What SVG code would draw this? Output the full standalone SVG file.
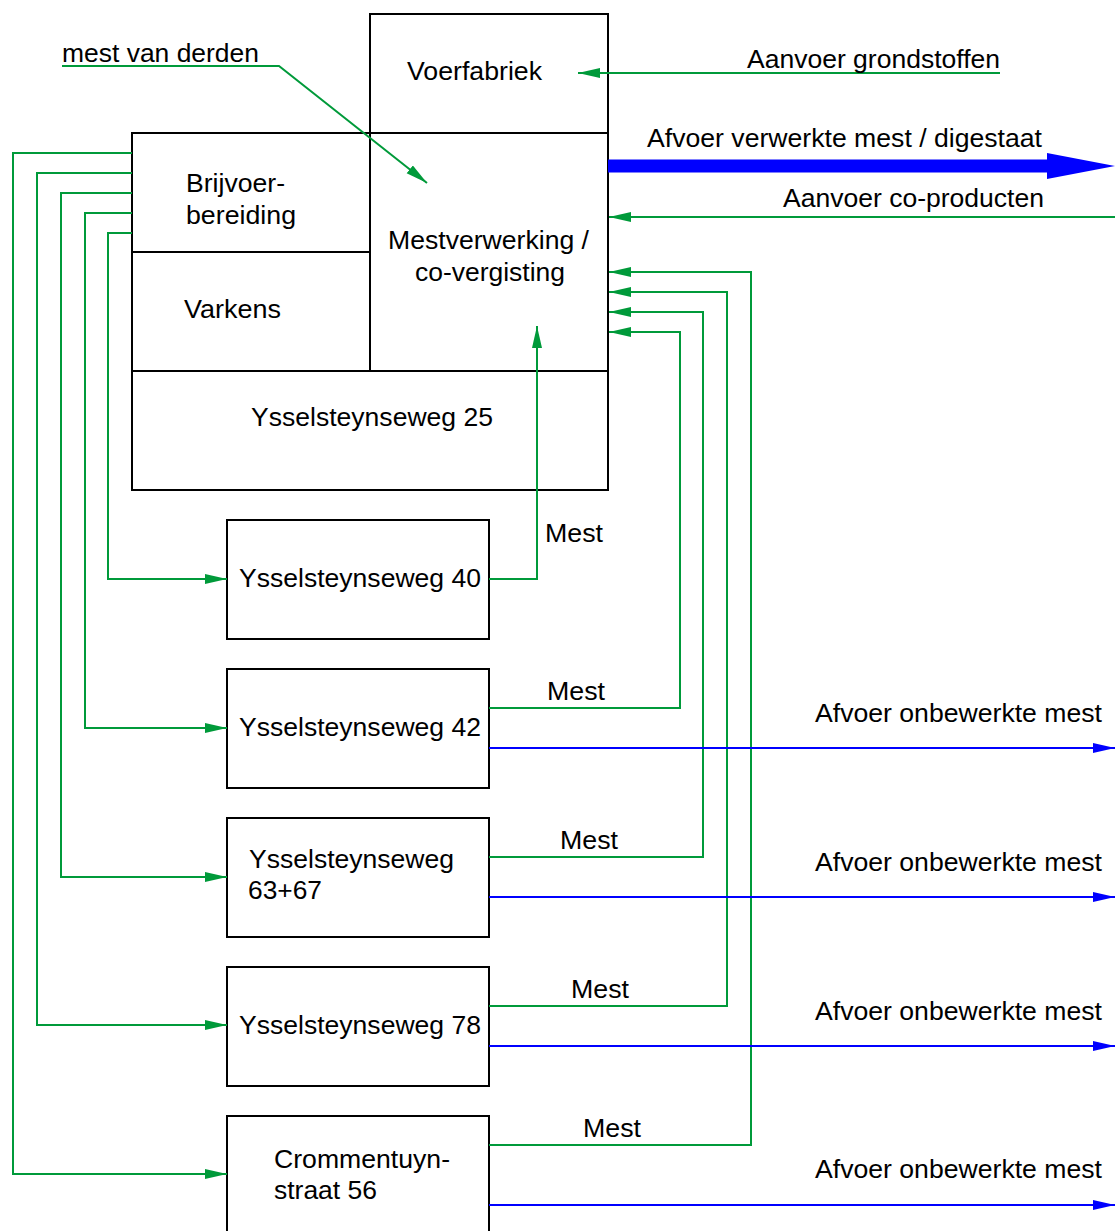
<svg xmlns="http://www.w3.org/2000/svg" width="1115" height="1231" viewBox="0 0 1115 1231">
<style>
.box{fill:#fff;stroke:#000;stroke-width:2}
.t{font-family:"Liberation Sans",Arial,sans-serif;font-size:25px;fill:#000}
.g{fill:none;stroke:#009a3a;stroke-width:2}
.b{fill:none;stroke:#0000ff;stroke-width:2}
</style>
<defs>
<marker id="ga" markerUnits="userSpaceOnUse" markerWidth="24" markerHeight="12" refX="22" refY="5" orient="auto"><path d="M0,0 L22,5 L0,10 Z" fill="#009a3a"/></marker>
<marker id="ba" markerUnits="userSpaceOnUse" markerWidth="24" markerHeight="12" refX="22" refY="5" orient="auto"><path d="M0,0 L22,5 L0,10 Z" fill="#0000ff"/></marker>
</defs>
<rect width="1115" height="1231" fill="#fff"/>
<g id="voerfabriek"><rect class="box" x="370" y="14" width="238" height="119"/><text class="t" x="407" y="80" textLength="135" lengthAdjust="spacingAndGlyphs">Voerfabriek</text></g>
<g id="ysselsteynseweg25"><rect class="box" x="132" y="371" width="476" height="119"/><text class="t" x="251" y="426" textLength="242" lengthAdjust="spacingAndGlyphs">Ysselsteynseweg 25</text></g>
<g id="brijvoer"><rect class="box" x="132" y="133" width="238" height="119"/><text class="t" x="186" y="192" textLength="99" lengthAdjust="spacingAndGlyphs">Brijvoer-</text><text class="t" x="186" y="224" textLength="110" lengthAdjust="spacingAndGlyphs">bereiding</text></g>
<g id="varkens"><rect class="box" x="132" y="252" width="238" height="119"/><text class="t" x="184" y="318" textLength="97" lengthAdjust="spacingAndGlyphs">Varkens</text></g>
<g id="mestverwerking"><rect class="box" x="370" y="133" width="238" height="238"/><text class="t" x="388" y="249" textLength="201" lengthAdjust="spacingAndGlyphs">Mestverwerking /</text><text class="t" x="415" y="281" textLength="150" lengthAdjust="spacingAndGlyphs">co-vergisting</text></g>
<g id="ysselsteynseweg40"><rect class="box" x="227" y="520" width="262" height="119"/><text class="t" x="239" y="587" textLength="242" lengthAdjust="spacingAndGlyphs">Ysselsteynseweg 40</text></g>
<g id="ysselsteynseweg42"><rect class="box" x="227" y="669" width="262" height="119"/><text class="t" x="239" y="736" textLength="242" lengthAdjust="spacingAndGlyphs">Ysselsteynseweg 42</text></g>
<g id="ysselsteynseweg6367"><rect class="box" x="227" y="818" width="262" height="119"/><text class="t" x="249" y="868" textLength="205" lengthAdjust="spacingAndGlyphs">Ysselsteynseweg</text><text class="t" x="248" y="899" textLength="74" lengthAdjust="spacingAndGlyphs">63+67</text></g>
<g id="ysselsteynseweg78"><rect class="box" x="227" y="967" width="262" height="119"/><text class="t" x="239" y="1034" textLength="242" lengthAdjust="spacingAndGlyphs">Ysselsteynseweg 78</text></g>
<g id="crommentuynstraat56"><rect class="box" x="227" y="1116" width="262" height="130"/><text class="t" x="274" y="1168" textLength="176" lengthAdjust="spacingAndGlyphs">Crommentuyn-</text><text class="t" x="274" y="1199" textLength="103" lengthAdjust="spacingAndGlyphs">straat 56</text></g>
<g id="connectors">
<path class="g" d="M62,66 L279,66 L427,183" marker-end="url(#ga)"/>
<path class="g" d="M1000,73 L578,73" marker-end="url(#ga)"/>
<line x1="608" y1="166" x2="1048" y2="166" stroke="#0000ff" stroke-width="13"/>
<polygon points="1047,153 1115,166 1047,179" fill="#0000ff"/>
<path class="g" d="M1115,217 L609,217" marker-end="url(#ga)"/>
<path class="g" d="M132,153 L13,153 L13,1174 L227,1174" marker-end="url(#ga)"/>
<path class="g" d="M132,173 L37,173 L37,1025 L227,1025" marker-end="url(#ga)"/>
<path class="g" d="M132,193 L61,193 L61,877 L227,877" marker-end="url(#ga)"/>
<path class="g" d="M132,213 L85,213 L85,728 L227,728" marker-end="url(#ga)"/>
<path class="g" d="M132,233 L108,233 L108,579 L227,579" marker-end="url(#ga)"/>
<path class="g" d="M489,579 L537,579 L537,326" marker-end="url(#ga)"/>
<path class="g" d="M489,708 L680,708 L680,332 L609,332" marker-end="url(#ga)"/>
<path class="g" d="M489,857 L703,857 L703,312 L609,312" marker-end="url(#ga)"/>
<path class="g" d="M489,1006 L727,1006 L727,292 L609,292" marker-end="url(#ga)"/>
<path class="g" d="M489,1145 L751,1145 L751,272 L609,272" marker-end="url(#ga)"/>
<path class="b" d="M489,748 L1115,748" marker-end="url(#ba)"/>
<path class="b" d="M489,897 L1115,897" marker-end="url(#ba)"/>
<path class="b" d="M489,1046 L1115,1046" marker-end="url(#ba)"/>
<path class="b" d="M489,1205 L1115,1205" marker-end="url(#ba)"/>
</g>
<g id="labels">
<text class="t" x="62" y="62" textLength="197" lengthAdjust="spacingAndGlyphs">mest van derden</text>
<text class="t" x="747" y="68" textLength="253" lengthAdjust="spacingAndGlyphs">Aanvoer grondstoffen</text>
<text class="t" x="647" y="147" textLength="395" lengthAdjust="spacingAndGlyphs">Afvoer verwerkte mest / digestaat</text>
<text class="t" x="783" y="207" textLength="261" lengthAdjust="spacingAndGlyphs">Aanvoer co-producten</text>
<text class="t" x="545" y="542" textLength="58" lengthAdjust="spacingAndGlyphs">Mest</text>
<text class="t" x="547" y="700" textLength="58" lengthAdjust="spacingAndGlyphs">Mest</text>
<text class="t" x="560" y="849" textLength="58" lengthAdjust="spacingAndGlyphs">Mest</text>
<text class="t" x="571" y="998" textLength="58" lengthAdjust="spacingAndGlyphs">Mest</text>
<text class="t" x="583" y="1137" textLength="58" lengthAdjust="spacingAndGlyphs">Mest</text>
<text class="t" x="815" y="722" textLength="287" lengthAdjust="spacingAndGlyphs">Afvoer onbewerkte mest</text>
<text class="t" x="815" y="871" textLength="287" lengthAdjust="spacingAndGlyphs">Afvoer onbewerkte mest</text>
<text class="t" x="815" y="1020" textLength="287" lengthAdjust="spacingAndGlyphs">Afvoer onbewerkte mest</text>
<text class="t" x="815" y="1178" textLength="287" lengthAdjust="spacingAndGlyphs">Afvoer onbewerkte mest</text>
</g>
</svg>
